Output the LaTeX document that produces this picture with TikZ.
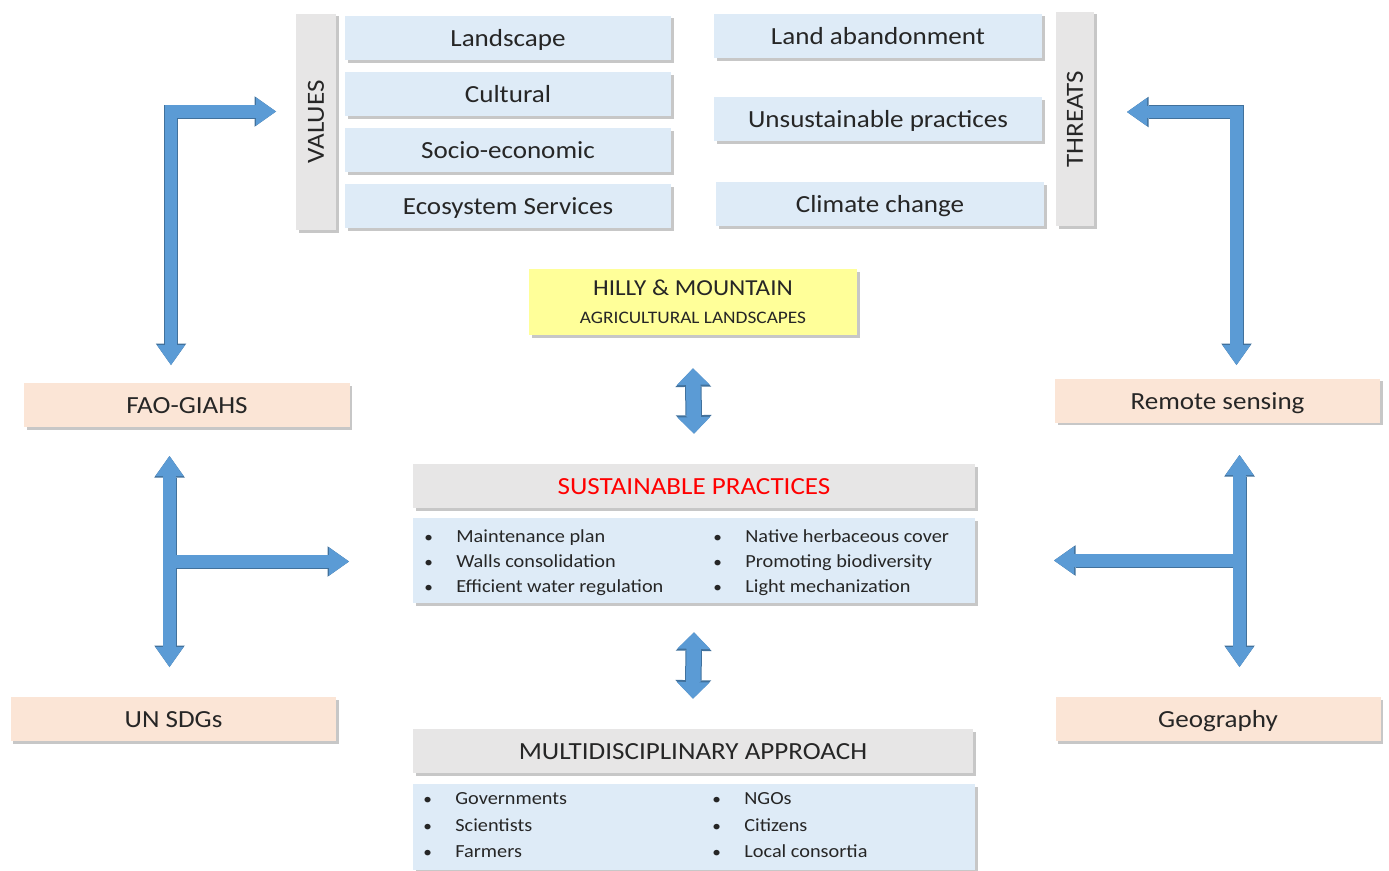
\documentclass[tikz,border=0pt]{standalone}
\usepackage{fontspec}
\setmainfont{Carlito}[FakeStretch=1.1]
\usepackage{graphicx}
\usetikzlibrary{calc,arrows.meta,shadows}

\definecolor{boxblue}{HTML}{DEEBF7}
\definecolor{boxgray}{HTML}{E7E6E6}
\definecolor{boxpeach}{HTML}{FBE5D6}
\definecolor{boxyellow}{HTML}{FFFF99}
\definecolor{arrowfill}{HTML}{5B9BD5}
\definecolor{arrowedge}{HTML}{41719C}
\definecolor{textdark}{HTML}{262626}

\newcommand\bul{\makebox[6.4mm][l]{\scalebox{0.85}{\textbullet}}}

\tikzset{
	box/.style={inner sep=0pt, text=textdark, font=\fontsize{14}{16}\selectfont,
		drop shadow={shadow xshift=0.5mm, shadow yshift=-0.5mm, fill=black, opacity=0.22}},
	oneline/.style={text height=12pt, text depth=2pt},
	valbox/.style={box, oneline, fill=boxblue, minimum width=65.2mm, minimum height=8.8mm},
	sidebar/.style={box, fill=boxgray, minimum width=8mm, minimum height=43.2mm},
	linkbox/.style={box, oneline, fill=boxpeach, minimum width=65mm, minimum height=8.8mm},
	headbox/.style={box, oneline, fill=boxgray, minimum width=112.4mm, minimum height=8.8mm},
	listbox/.style={box, fill=boxblue, minimum width=112.4mm, minimum height=17mm},
	item/.style={anchor=west, inner sep=0pt, text=textdark, font=\fontsize{10.5}{12}\selectfont,
		text height=9.6pt, text depth=2pt},
	sidetipE/.tip={Triangle[width=6.1mm, length=4.3mm, line width=0pt]},
	sidetipF/.tip={Triangle[width=5.6mm, length=4mm, line width=0pt]},
	midtipE/.tip={Triangle[width=7.2mm, length=3.7mm, line width=0pt]},
	midtipF/.tip={Triangle[width=6.6mm, length=3.3mm, line width=0pt]},
	sideedge/.style={draw=arrowedge, line width=2.8mm},
	sidefill/.style={draw=arrowfill, line width=2.5mm},
	midedge/.style={draw=arrowedge, line width=3.3mm},
	midfill/.style={draw=arrowfill, line width=2.9mm},
}

\begin{document}
\begin{tikzpicture}[x=0.2mm, y=-0.2mm]
	%%%%% START %%%%%
	\useasboundingbox (0,0) rectangle (1389,870);
	
	% values
	\node[sidebar] (values) at (316,122) {\rotatebox{90}{VALUES}};
	\node[valbox] (landscape) at (508,38) {Landscape};
	\node[valbox] (cultural) at (508,94) {Cultural};
	\node[valbox] (socio) at (508,150) {Socio-economic};
	\node[valbox] (ecosys) at (508,206) {Ecosystem Services};
	
	% threats
	\node[valbox, minimum width=65.6mm] (abandon) at (878,36) {Land abandonment};
	\node[valbox, minimum width=65.6mm] (unsust) at (878,119) {Unsustainable practices};
	\node[valbox, minimum width=65.6mm] (climate) at (880,204) {Climate change};
	\node[sidebar, minimum width=7.6mm, minimum height=42.8mm] (threats) at (1075,119) {\rotatebox{90}{THREATS}};
	
	\node[box, fill=boxyellow, minimum width=65.6mm, minimum height=13.2mm, align=center,
		font=\fontsize{13}{16}\selectfont] (hilly) at (693,302)
		{HILLY \& MOUNTAIN\\{\fontsize{10}{16}\selectfont AGRICULTURAL LANDSCAPES}};
	
	\node[linkbox] (fao) at (187,405) {FAO-GIAHS};
	\node[linkbox] (sdg) at (173.5,719) {UN SDGs};
	\node[linkbox] (remote) at (1217.5,400.5) {Remote sensing};
	\node[linkbox] (geo) at (1218,719) {Geography};
	
	% sustainable practices
	\node[headbox] (sphead) at (694,486) {\textcolor{red}{SUSTAINABLE PRACTICES}};
	\node[listbox] (splist) at (694,560.5) {};
	\node[item] (sp1) at (424,536) {\bul Maintenance plan};
	\node[item] (sp2) at (424,561) {\bul Walls consolidation};
	\node[item] (sp3) at (424,586) {\bul Efficient water regulation};
	\node[item] (sp4) at (713,536) {\bul Native herbaceous cover};
	\node[item] (sp5) at (713,561) {\bul Promoting biodiversity};
	\node[item] (sp6) at (713,586) {\bul Light mechanization};
	
	% multidisciplinary approach
	\node[headbox, minimum width=112mm] (mahead) at (693,751) {MULTIDISCIPLINARY APPROACH};
	\node[listbox, minimum height=17.2mm] (malist) at (694,827) {};
	\node[item] (ma1) at (423,798) {\bul Governments};
	\node[item] (ma2) at (423,825) {\bul Scientists};
	\node[item] (ma3) at (423,851) {\bul Farmers};
	\node[item] (ma4) at (712,798) {\bul NGOs};
	\node[item] (ma5) at (712,825) {\bul Citizens};
	\node[item] (ma6) at (712,851) {\bul Local consortia};
	
	% arrow ends
	\coordinate (valtip) at (276,111.5);
	\coordinate (valbend) at (171,111.5);
	\coordinate (faotip) at (171,365);
	\coordinate (thrtip) at (1127,112);
	\coordinate (thrbend) at (1236.5,112);
	\coordinate (remtip) at (1236.5,365);
	\coordinate (faotop) at (169.5,456);
	\coordinate (sdgtip) at (169.5,667);
	\coordinate (faojoin) at (169.5,561.5);
	\coordinate (spleft) at (349,561.5);
	\coordinate (remtop) at (1239.5,455);
	\coordinate (geotip) at (1239.5,667);
	\coordinate (remjoin) at (1239.5,560.5);
	\coordinate (spright) at (1054,560.5);
	
	% arrows: edge first, then fill
	\draw[sideedge, sidetipE-sidetipE] (valtip) -- (valbend) -- (faotip);
	\draw[sideedge, sidetipE-sidetipE] (thrtip) -- (thrbend) -- (remtip);
	\draw[sideedge, sidetipE-sidetipE] (faotop) -- (sdgtip);
	\draw[sideedge, -sidetipE] (faojoin) -- (spleft);
	\draw[sideedge, sidetipE-sidetipE] (remtop) -- (geotip);
	\draw[sideedge, -sidetipE] (remjoin) -- (spright);
	\draw[midedge, midtipE-midtipE] ($(hilly.south)+(0,33)$) -- ($(sphead.north)+(0,-30)$);
	\draw[midedge, midtipE-midtipE] ($(splist.south)+(0,29)$) -- ($(mahead.north)+(0,-30)$);
	
	\draw[sidefill, sidetipF-sidetipF] (valtip) -- (valbend) -- (faotip);
	\draw[sidefill, sidetipF-sidetipF] (thrtip) -- (thrbend) -- (remtip);
	\draw[sidefill, sidetipF-sidetipF] (faotop) -- (sdgtip);
	\draw[sidefill, -sidetipF] (faojoin) -- (spleft);
	\draw[sidefill, sidetipF-sidetipF] (remtop) -- (geotip);
	\draw[sidefill, -sidetipF] (remjoin) -- (spright);
	\draw[midfill, midtipF-midtipF] ($(hilly.south)+(0,33)$) -- ($(sphead.north)+(0,-30)$);
	\draw[midfill, midtipF-midtipF] ($(splist.south)+(0,29)$) -- ($(mahead.north)+(0,-30)$);
	
	%%%%% END %%%%%
\end{tikzpicture}
\end{document}
